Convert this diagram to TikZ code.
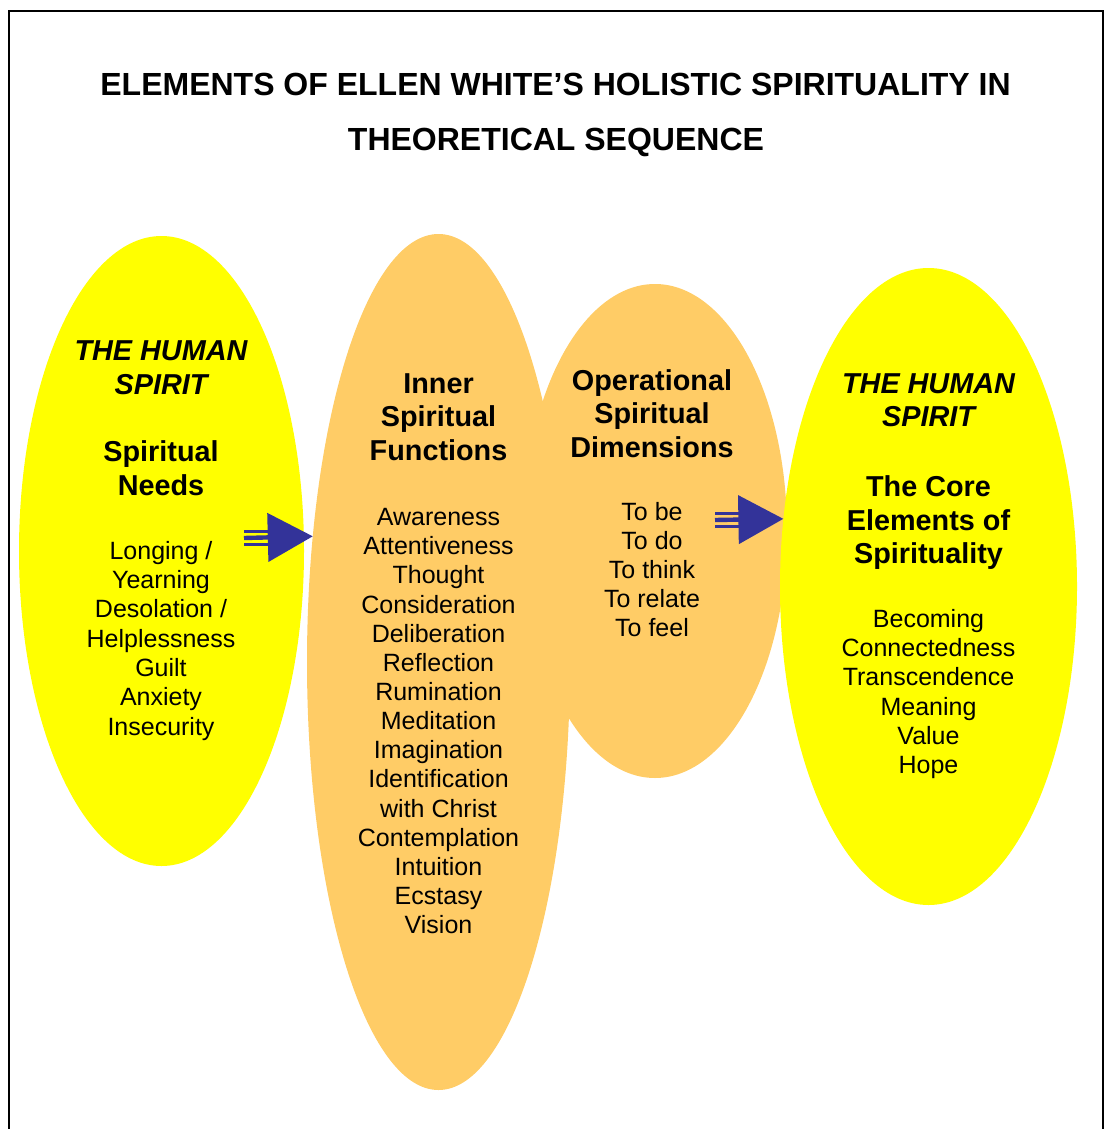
\documentclass[tikz,border=0pt]{standalone}
\usepackage{fontspec}
\setmainfont{Liberation Sans}
\usepackage{xcolor}
\usetikzlibrary{shapes.geometric,arrows.meta,calc,positioning}

\definecolor{spirityellow}{HTML}{FFFF00}
\definecolor{innerorange}{HTML}{FFCC66}
\definecolor{arrowblue}{HTML}{333399}

\tikzset{
  blob/.style={ellipse, draw=none, inner sep=0pt, outer sep=0pt},
  titletext/.style={font=\fontsize{32}{38}\selectfont\bfseries, anchor=base, inner sep=0pt},
  headtext/.style={font=\fontsize{28.8}{33.6}\selectfont\bfseries, anchor=base, inner sep=0pt},
  italichead/.style={headtext, font=\fontsize{28.8}{33.6}\selectfont\bfseries\itshape},
  itemtext/.style={font=\fontsize{25}{29.2}\selectfont, anchor=base, inner sep=0pt},
  bluebar/.style={draw=arrowblue, line width=4.4pt},
  thinbar/.style={draw=arrowblue, line width=2.6pt},
}

% #1 is start, #2 is tip
\newcommand{\tribararrow}[2]{
  \draw[bluebar, -{Triangle[length=45pt,width=48pt]}] (#1) -- (#2);
  \draw[thinbar] ([yshift=6.5pt]#1) -- ++(24,0);
  \draw[thinbar] ([yshift=-6.5pt]#1) -- ++(24,0);
}

\begin{document}
\begin{tikzpicture}[x=1pt,y=-1pt]
  \useasboundingbox (0,0) rectangle (1105,1129);
  \clip (0,0) rectangle (1105,1129);

  % frame
  \draw[line width=2pt] (9.3,1140) |- (1102.7,11.3) -- (1102.7,1140);

  % title
  \node[titletext] (title1) at (555.5,96) {ELEMENTS OF ELLEN WHITE’S HOLISTIC SPIRITUALITY IN};
  \node[titletext] (title2) at (556,150.5) {THEORETICAL SEQUENCE};

  % the four ellipses
  \node[blob, fill=spirityellow, minimum width=285pt, minimum height=630pt] (needs) at (161.5,551) {};
  \node[blob, fill=innerorange, minimum width=263pt, minimum height=856pt] (inner) at (438.5,662) {};
  \node[blob, fill=innerorange, minimum width=264pt, minimum height=494pt] (ops) at (655,531) {};
  \node[blob, fill=spirityellow, minimum width=297pt, minimum height=637pt] (core) at (928.5,586.5) {};

  % left: spiritual needs
  \foreach \t [count=\i] in {THE HUMAN, SPIRIT}
    \node[italichead] (needs-h\i) at (161,360.7+33.6*\i-33.6) {\t};
  \foreach \t [count=\i] in {Spiritual, Needs}
    \node[headtext] (needs-t\i) at (161,461.7+33.6*\i-33.6) {\t};
  \foreach \t [count=\i] in {Longing /, Yearning, Desolation /, Helplessness, Guilt, Anxiety, Insecurity}
    \node[itemtext] (needs-\i) at (161,559.3+29.3*\i-29.3) {\t};

  % middle: inner functions
  \foreach \t [count=\i] in {Inner, Spiritual, Functions}
    \node[headtext] (inner-t\i) at (438.5,393.3+33.6*\i-33.6) {\t};
  \foreach \t [count=\i] in {Awareness, Attentiveness, Thought, Consideration, Deliberation, Reflection,
      Rumination, Meditation, Imagination, Identification, with Christ, Contemplation, Intuition, Ecstasy, Vision}
    \node[itemtext] (inner-\i) at (438.5,525.7+29.14*\i-29.14) {\t};

  % operational dimensions
  \foreach \t [count=\i] in {Operational, Spiritual, Dimensions}
    \node[headtext] (ops-t\i) at (652,390+33.6*\i-33.6) {\t};
  \foreach \t [count=\i] in {To be, To do, To think, To relate, To feel}
    \node[itemtext] (ops-\i) at (652,520+29.2*\i-29.2) {\t};

  % right: core elements
  \foreach \t [count=\i] in {THE HUMAN, SPIRIT}
    \node[italichead] (core-h\i) at (928.5,393.3+33.6*\i-33.6) {\t};
  \foreach \t [count=\i] in {The Core, Elements of, Spirituality}
    \node[headtext] (core-t\i) at (928.5,496.7+33.6*\i-33.6) {\t};
  \foreach \t [count=\i] in {Becoming, Connectedness, Transcendence, Meaning, Value, Hope}
    \node[itemtext] (core-\i) at (928.5,627.5+29.2*\i-29.2) {\t};

  % arrows
  \coordinate (needs-out) at ($(needs.east)+(-60,-13)$);
  \coordinate (ops-out) at ($(ops.east)+(-72,-11)$);
  \tribararrow{needs-out}{inner.135.43}
  \tribararrow{ops-out}{core.155.4}

\end{tikzpicture}
\end{document}
